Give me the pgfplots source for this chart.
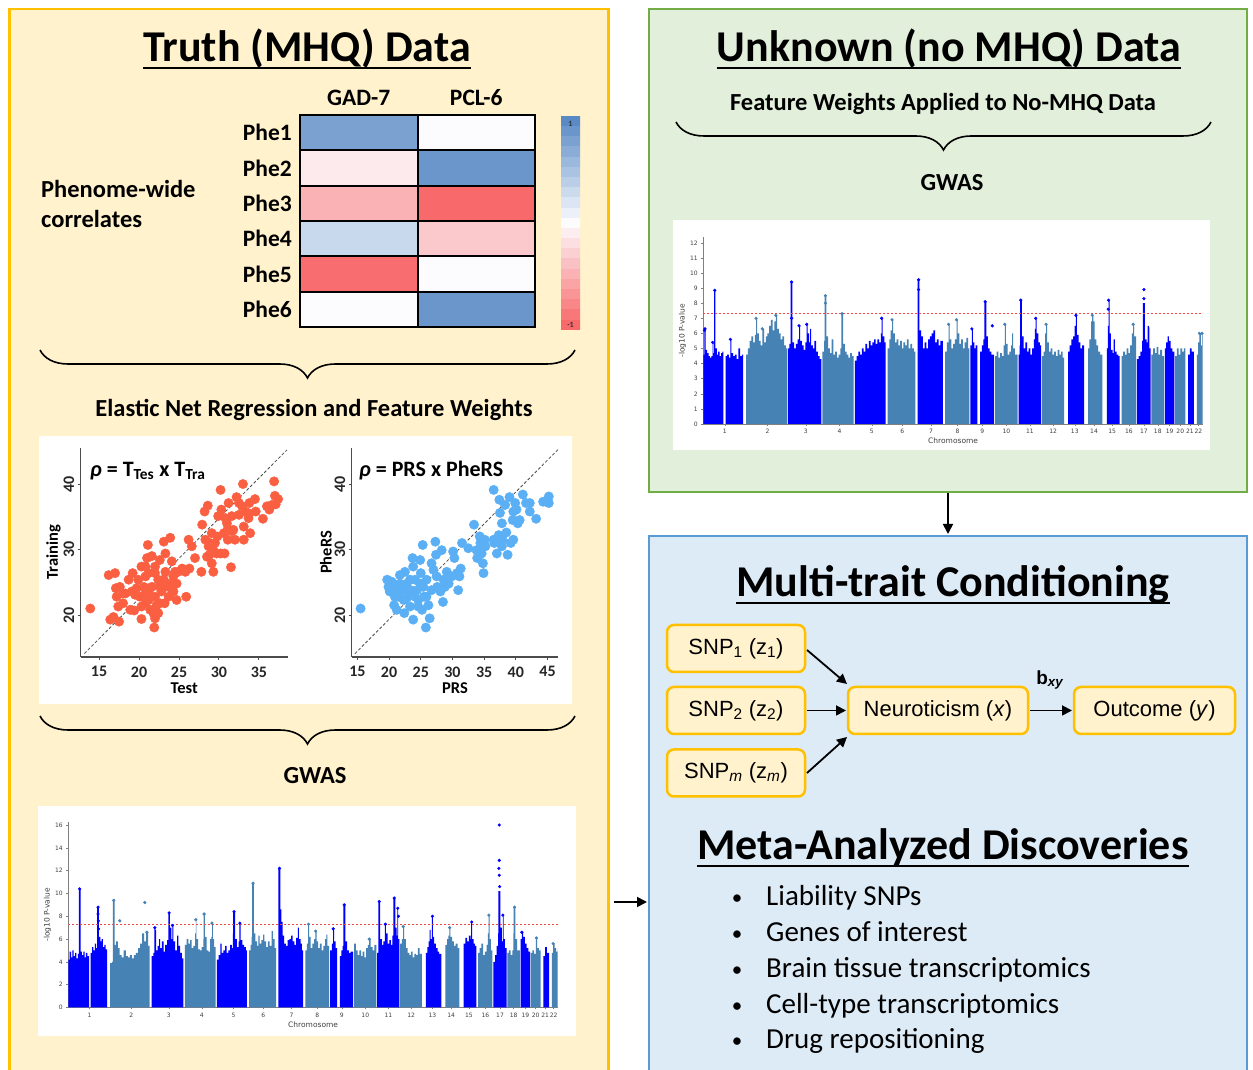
\documentclass[border=0pt]{standalone}
\usepackage{fontspec}
\setmainfont{Carlito}
\newfontfamily\arialf{Liberation Sans}
\newfontfamily\verdf{DejaVu Sans}
\usepackage{pgfplots}
\usepackage{pgfplotstable}
\pgfplotsset{compat=1.18}
\usetikzlibrary{arrows.meta,decorations.pathreplacing}
\definecolor{panelY}{HTML}{FFF2CC}
\definecolor{borderY}{HTML}{FFC000}
\definecolor{panelG}{HTML}{E2EFDA}
\definecolor{borderG}{HTML}{70AD47}
\definecolor{panelB}{HTML}{DDEBF7}
\definecolor{borderB}{HTML}{5B9BD5}
\definecolor{mhblue}{HTML}{0000FF}
\definecolor{mhsteel}{HTML}{4682B4}
\definecolor{ptred}{RGB}{250,95,65}
\definecolor{ptblue}{RGB}{90,175,245}
\definecolor{thr}{RGB}{245,70,70}

\pgfplotstableread{
x y c
0 0 0.8
1 0 0.0
0 1 -0.12
1 1 0.9
0 2 -0.5
1 2 -1.0
0 3 0.32
1 3 -0.35
0 4 -0.97
1 4 0.0
0 5 0.0
1 5 0.9
}\heattab

% colour-bar steps (row, value)
\pgfplotstableread{
x y c
0 -1 1
1 -1 1
0 -0.9 0.9
1 -0.9 0.9
0 -0.8 0.8
1 -0.8 0.8
0 -0.7 0.7
1 -0.7 0.7
0 -0.6 0.6
1 -0.6 0.6
0 -0.5 0.5
1 -0.5 0.5
0 -0.4 0.4
1 -0.4 0.4
0 -0.3 0.3
1 -0.3 0.3
0 -0.2 0.2
1 -0.2 0.2
0 -0.1 0.1
1 -0.1 0.1
0 0 0
1 0 0
0 0.1 -0.1
1 0.1 -0.1
0 0.2 -0.2
1 0.2 -0.2
0 0.3 -0.3
1 0.3 -0.3
0 0.4 -0.4
1 0.4 -0.4
0 0.5 -0.5
1 0.5 -0.5
0 0.6 -0.6
1 0.6 -0.6
0 0.7 -0.7
1 0.7 -0.7
0 0.8 -0.8
1 0.8 -0.8
0 0.9 -0.9
1 0.9 -0.9
0 1 -1
1 1 -1
}\cbartab

\pgfplotsset{
  mhB/.style={fill=mhblue, draw=none, const plot},
  mhS/.style={fill=mhsteel, draw=none, const plot},
  manh/.style={anchor=south west, scale only axis, xmin=0, xmax=2880, ymin=0,
    axis lines=left, axis line style={-, draw=black!50, line width=0.6pt},
    tick style={draw=black!50, line width=0.5pt}, major tick length=2pt, tick align=outside,
    xtick={124.5,370.5,591,785.5,971.5,1147.5,1312.5,1465,1608.5,1747,1882.5,2017,2141.5,2252.5,2357,2453,2539.5,2620,2688.5,2749.5,2805,2854.5},
    xticklabels={1,2,3,4,5,6,7,8,9,10,11,12,13,14,15,16,17,18,19,20,21,22},
    ticklabel style={font=\verdf\fontsize{6}{6}\selectfont, text=black!75},
    /pgf/number format/assume math mode=true,
    xlabel={Chromosome}, ylabel={-log10 P-value},
    label style={font=\verdf\fontsize{7.5}{8}\selectfont, text=black!75},
    xlabel style={yshift=3pt}, ylabel style={yshift=-3pt}},
  scat/.style={anchor=south west, scale only axis, width=207pt, height=209pt,
    ymin=13.6, ymax=45.5, axis lines=left,
    axis line style={-, draw=black!70, line width=1.2pt},
    tick style={draw=black!70, line width=1pt}, major tick length=3pt, tick align=outside,
    ytick={20,30,40},
    ticklabel style={font=\fontsize{16}{16}\selectfont\bfseries, text=black!85},
    xticklabel style={yshift=-3pt},
    /pgf/number format/assume math mode=true,
    yticklabel style={rotate=90, anchor=south},
    label style={font=\fontsize{16.5}{17}\selectfont\bfseries},
    ylabel style={yshift=-4pt}, xlabel style={yshift=1pt}}
}

\begin{document}
\begin{tikzpicture}[x=1pt,y=1pt]
\useasboundingbox (0,0) rectangle (1253,1070);
% ---------- panels
\draw[line width=2.5pt, draw=borderY, fill=panelY] (9.5,-20) rectangle (608.5,1061);
\draw[line width=2.5pt, draw=borderG, fill=panelG] (649,578) rectangle (1247,1061);
\draw[line width=2.5pt, draw=borderB, fill=panelB] (649,-20) rectangle (1247,534);
% white boxes
\fill[white] (39,366) rectangle (572,634);
\fill[white] (38,34) rectangle (576,264);
\fill[white] (673,620) rectangle (1210,850);

% ---------- titles
\node[anchor=base, inner sep=0, font=\fontsize{44}{48}\selectfont\bfseries] (T1) at (307,1008) {Truth (MHQ) Data};
\draw[line width=2.8pt] ([yshift=-6pt]T1.base west) -- ([yshift=-6pt]T1.base east);
\node[anchor=base, inner sep=0, font=\fontsize{44}{48}\selectfont\bfseries] (T2) at (949,1008) {Unknown (no MHQ) Data};
\draw[line width=2.8pt] ([yshift=-6pt]T2.base west) -- ([yshift=-6pt]T2.base east);
\node[anchor=base, inner sep=0, font=\fontsize{44}{48}\selectfont\bfseries] (T3) at (953,473) {Multi-trait Conditioning};
\draw[line width=2.8pt] ([yshift=-6pt]T3.base west) -- ([yshift=-6pt]T3.base east);
\node[anchor=base, inner sep=0, font=\fontsize{44}{48}\selectfont\bfseries] (T4) at (943,210) {Meta-Analyzed Discoveries};
\draw[line width=2.8pt] ([yshift=-6pt]T4.base west) -- ([yshift=-6pt]T4.base east);

\node[anchor=base west, inner sep=0, font=\fontsize{24.5}{26}\selectfont\bfseries] at (41,872) {Phenome-wide};
\node[anchor=base west, inner sep=0, font=\fontsize{24.5}{26}\selectfont\bfseries] at (41,842) {correlates};

\node[inner sep=0, font=\fontsize{24.5}{26}\selectfont\bfseries] at (314,660) {Elastic Net Regression and Feature Weights};
\node[inner sep=0, font=\fontsize{24.5}{26}\selectfont\bfseries] at (315,294) {GWAS};
\node[inner sep=0, font=\fontsize{24.5}{26}\selectfont\bfseries] at (943,966) {Feature Weights Applied to No-MHQ Data};
\node[inner sep=0, font=\fontsize{24.5}{26}\selectfont\bfseries] at (952,887) {GWAS};

% braces
\draw[decorate, decoration={brace, mirror, amplitude=28pt}, line width=1.6pt] (40,720) -- (575,720);
\draw[decorate, decoration={brace, mirror, amplitude=28pt}, line width=1.6pt] (40,354) -- (575,354);
\draw[decorate, decoration={brace, mirror, amplitude=28pt}, line width=1.6pt] (676,948) -- (1211,948);

% ---------- heatmap
\begin{axis}[at={(300pt,743pt)}, anchor=south west, scale only axis, width=235pt, height=212pt,
  xmin=-0.5, xmax=1.5, ymin=-0.5, ymax=5.5, y dir=reverse,
  xtick={0,1}, xticklabels={GAD-7,PCL-6}, xticklabel pos=right,
  ytick={0,1,2,3,4,5}, yticklabels={Phe1,Phe2,Phe3,Phe4,Phe5,Phe6},
  major tick length=0pt, minor tick length=0pt,
  ticklabel style={font=\fontsize{23.5}{24}\selectfont\bfseries, inner sep=0pt},
  xticklabel style={yshift=9pt}, yticklabel style={xshift=-8pt},
  colormap={excel}{rgb255=(248,105,107) rgb255=(252,252,255) rgb255=(90,138,198)},
  point meta min=-1, point meta max=1,
  minor xtick={0.5}, minor ytick={0.5,1.5,2.5,3.5,4.5},
  xminorgrids=true, yminorgrids=true, minor grid style={black, line width=2pt},
  axis on top, axis line style={black, line width=2.4pt}]
\addplot[matrix plot, mesh/cols=2, point meta=explicit] table[x=x, y=y, meta=c] {\heattab};
\end{axis}

% colorbar
\begin{axis}[at={(561pt,740pt)}, anchor=south west, scale only axis, width=19pt, height=214pt,
  xmin=-0.5, xmax=1.5, ymin=-1.05, ymax=1.05, hide axis,
  colormap={excel}{rgb255=(248,105,107) rgb255=(252,252,255) rgb255=(90,138,198)},
  point meta min=-1, point meta max=1]
\addplot[matrix plot, mesh/cols=2, point meta=explicit] table[x=x, y=y, meta=c] {\cbartab};
\end{axis}
\node[font=\fontsize{8}{8}\selectfont\bfseries, text=black!80] at (570.5,946) {1};
\node[font=\fontsize{8}{8}\selectfont\bfseries, text=black!80] at (570.5,745) {-1};

% ---------- scatter left
\begin{axis}[scat, at={(80.7pt,413pt)}, xmin=12.7, xmax=38.6, xtick={15,20,25,30,35},
  xlabel={Test}, ylabel={Training}]
\addplot[black!70, dashed, line width=0.8pt, dash pattern=on 3pt off 2pt] coordinates {(13.16,14.13) (38.5,45.2)};
\addplot[only marks, mark=*, mark size=4.7pt, color=ptred] coordinates {
(13.9,21.0)(16.2,26.1)(17.0,26.4)(17.1,24.1)(17.6,24.3)(16.4,19.3)(16.8,19.7)(17.5,19.0)(17.4,21.3)(18.3,23.3)(18.0,21.8)(18.9,20.8)(19.2,26.4)(19.5,23.1)(19.9,25.4)(20.3,27.4)(19.4,20.7)(20.3,19.4)(20.1,22.8)(20.6,24.3)(20.8,23.3)(21.0,28.7)(21.1,30.7)(21.2,26.4)(20.8,21.8)(21.4,20.8)(21.8,20.3)(21.9,18.1)(21.6,24.3)(22.0,27.4)(22.0,22.8)(22.4,25.4)(22.6,21.8)(22.8,23.6)(23.1,31.2)(23.3,29.4)(23.3,26.6)(23.5,24.8)(23.7,22.8)(23.9,31.8)(24.1,28.2)(24.3,25.9)(24.3,23.6)(24.7,22.3)(23.2,21.8)(22.4,20.3)(21.2,22.3)(20.3,21.3)(21.6,29.0)(22.6,28.4)(24.9,26.6)(25.4,27.1)(25.8,26.6)(26.3,27.1)(25.9,22.8)(26.2,31.5)(26.6,30.5)(27.0,28.7)(27.8,26.6)(27.9,33.8)(28.2,35.8)(28.6,36.7)(28.3,31.5)(28.7,30.5)(28.8,29.2)(29.1,32.5)(29.1,27.9)(29.3,26.6)(29.5,31.0)(29.7,29.4)(29.9,35.1)(30.2,39.1)(30.3,36.1)(30.6,32.5)(30.7,29.4)(31.0,34.0)(31.1,31.5)(31.2,37.1)(31.5,27.3)(31.6,35.1)(31.8,33.0)(32.0,31.5)(32.2,38.0)(32.5,37.1)(32.9,36.6)(33.0,40.0)(33.1,33.5)(33.1,31.5)(33.3,35.8)(33.7,34.8)(33.8,37.1)(33.9,32.5)(34.5,37.7)(34.6,35.8)(35.5,34.7)(36.0,36.6)(36.3,36.1)(36.6,36.8)(36.9,40.4)(37.0,38.2)(37.4,37.7)(37.1,36.9)(18.7,25.4)(19.1,23.6)(20.8,25.9)(22.0,26.4)(22.6,24.3)(23.7,24.3)(24.1,24.8)(23.1,25.4)(20.8,27.4)(22.2,21.5)(21.2,23.6)(19.7,24.1)(22.0,19.5)(30.2,29.4)(28.9,31.0)(30.8,34.8)(31.6,32.8)(29.8,32.0)(31.1,33.1)(33.8,35.5)(32.5,35.3)(29.3,29.9)(28.5,28.9)(18.0,23.3)(17.2,22.8)(24.7,24.8)(24.5,26.6)};
\end{axis}
\node[anchor=west, inner sep=0, font=\fontsize{22}{22}\selectfont\bfseries] at (90,599) {\textit{ρ} = T\textsubscript{Tes} x T\textsubscript{Tra}};

% ---------- scatter right
\begin{axis}[scat, at={(351.7pt,413pt)}, width=206.6pt, xmin=14.1, xmax=46.7, xtick={15,20,25,30,35,40,45},
  xlabel={PRS}, ylabel={PheRS}]
\addplot[black!70, dashed, line width=0.8pt, dash pattern=on 3pt off 2pt] coordinates {(14.6,14.1) (46.7,45.3)};
\addplot[only marks, mark=*, mark size=4.7pt, color=ptblue] coordinates {
(15.5,21.0)(19.7,25.4)(19.9,24.3)(20.1,23.6)(20.4,25.1)(20.7,24.3)(20.9,22.8)(20.8,21.5)(21.2,20.8)(21.7,26.1)(22.0,23.8)(22.3,22.3)(22.4,20.3)(22.5,26.6)(22.8,24.8)(23.1,23.3)(23.3,21.3)(23.7,28.7)(23.8,27.4)(23.8,19.3)(24.1,25.4)(24.4,23.8)(24.6,22.3)(24.9,28.4)(25.0,26.4)(25.2,20.8)(25.3,30.7)(25.4,24.3)(25.5,22.8)(25.8,18.1)(25.9,25.4)(26.2,21.5)(26.4,19.5)(26.7,27.9)(27.0,26.9)(27.3,31.2)(27.4,29.2)(27.5,25.9)(27.6,24.3)(28.1,23.6)(28.3,29.9)(28.5,22.0)(28.6,25.4)(29.1,26.6)(29.4,24.8)(29.9,25.9)(30.1,29.7)(30.3,28.7)(30.7,26.4)(30.9,23.8)(31.1,25.9)(31.3,27.1)(31.5,31.0)(32.5,30.2)(33.4,33.8)(33.8,29.9)(33.9,28.7)(34.3,32.0)(34.4,31.0)(34.6,29.4)(34.8,27.9)(34.9,26.4)(35.1,31.5)(35.2,30.5)(36.5,39.1)(36.6,31.0)(37.0,29.4)(37.3,32.2)(37.4,37.6)(37.5,35.6)(37.8,34.0)(37.9,31.5)(38.3,36.8)(38.5,32.6)(38.7,29.2)(39.0,38.0)(39.2,31.0)(39.5,34.5)(39.6,31.5)(39.9,37.1)(40.1,36.1)(40.3,34.0)(40.6,34.5)(41.1,38.4)(41.6,37.1)(42.2,37.1)(42.2,35.8)(43.2,34.7)(44.3,37.3)(44.9,37.3)(45.2,38.1)(45.2,37.1)(21.7,24.8)(21.2,24.0)(23.3,25.4)(22.8,22.6)(24.1,22.8)(24.6,21.3)(23.4,23.8)(22.3,24.1)(26.7,23.8)(25.9,22.8)(28.8,24.3)(34.8,30.5)(37.8,30.5)(39.6,35.8)(20.2,24.6)(21.5,22.8)(24.9,24.8)(36.5,31.5)};
\end{axis}
\node[anchor=west, inner sep=0, font=\fontsize{22}{22}\selectfont\bfseries] at (359,599) {\textit{ρ} = PRS x PheRS};

% ---------- Manhattan 1 (truth)
\begin{axis}[manh, at={(68.3pt,62.5pt)}, width=489.6pt, height=185.3pt, ymax=16.25, ytick={0,2,4,6,8,10,12,14,16}]
\addplot[mhB] coordinates {(0,0)(0,4.2)(8,4.9)(16,4.4)(24,5.0)(32,4.5)(40,4.8)(48,4.3)(56,4.7)(62,4.6)(62,10.4)(72,10.4)(72,4.9)(80,4.6)(88,4.9)(96,4.4)(104,4.8)(112,4.5)(122,4.7)(122,0)};
\addplot[mhB] coordinates {(132,0)(132,4.8)(140,5.3)(148,5.0)(156,5.6)(164,5.2)(170,6.0)(170,8.8)(180,8.8)(180,6.2)(188,5.8)(196,6.0)(204,5.3)(212,5.5)(220,5.1)(228,5.0)(228,0)};
\addplot[mhS] coordinates {(246,0)(246,3.9)(258,4.0)(262,4.2)(262,9.4)(272,9.4)(272,5.5)(282,5.8)(292,5.2)(302,4.6)(314,4.4)(326,5.0)(338,4.5)(350,4.4)(362,4.6)(374,4.3)(386,4.6)(398,4.8)(410,5.2)(422,5.6)(434,6.5)(446,5.8)(458,6.6)(470,5.4)(478,4.3)(478,0)};
\addplot[mhB] coordinates {(490,0)(490,4.5)(500,4.8)(506,7.0)(512,6.8)(516,5.0)(526,5.4)(534,6.0)(540,5.2)(550,5.8)(560,4.9)(570,5.5)(582,5.9)(588,7.0)(588,8.3)(598,8.3)(598,7.0)(606,6.0)(612,7.2)(618,5.8)(628,5.0)(640,6.3)(648,5.4)(658,4.8)(668,4.3)(677,4.1)(677,0)};
\addplot[mhS] coordinates {(686,0)(686,5.5)(696,6.0)(706,5.6)(716,5.9)(726,5.2)(736,5.4)(746,6.5)(750,7.7)(754,6.0)(764,5.1)(774,5.0)(784,5.3)(794,6.0)(796,8.2)(802,8.2)(804,6.2)(814,5.0)(824,4.9)(834,6.0)(842,6.2)(846,7.4)(850,6.0)(858,5.3)(866,4.5)(866,0)};
\addplot[mhB] coordinates {(874,0)(874,4.2)(884,4.6)(894,5.6)(902,4.8)(912,5.0)(922,5.4)(932,4.8)(942,5.0)(952,5.5)(962,5.2)(968,6.5)(970,8.4)(980,8.4)(982,6.0)(992,5.3)(1002,5.8)(1006,7.4)(1012,7.4)(1014,5.9)(1024,5.5)(1034,5.3)(1044,5.0)(1051,4.6)(1051,0)};
\addplot[mhS] coordinates {(1064,0)(1064,5.0)(1072,5.5)(1078,6.2)(1082,6.2)(1082,10.9)(1092,10.9)(1092,6.5)(1100,5.8)(1110,5.4)(1118,6.3)(1126,5.6)(1136,5.9)(1146,6.4)(1154,5.8)(1164,5.3)(1174,5.8)(1184,5.4)(1196,6.7)(1204,6.0)(1214,5.2)(1223,4.8)(1223,0)};
\addplot[mhB] coordinates {(1236,0)(1236,12.2)(1248,12.2)(1248,8.6)(1254,7.5)(1260,6.3)(1270,5.6)(1280,5.4)(1290,5.9)(1300,6.0)(1310,6.3)(1320,5.8)(1330,5.5)(1340,6.1)(1350,7.0)(1356,6.0)(1366,5.6)(1374,5.0)(1381,4.6)(1381,0)};
\addplot[mhS] coordinates {(1394,0)(1394,5.0)(1404,5.6)(1410,7.3)(1416,6.2)(1426,5.2)(1436,5.6)(1446,6.0)(1454,6.7)(1460,5.8)(1470,5.2)(1480,5.6)(1490,5.0)(1500,5.4)(1510,6.0)(1518,6.4)(1524,5.4)(1534,4.8)(1534,0)};
\addplot[mhB] coordinates {(1540,0)(1540,5.0)(1550,5.6)(1558,6.9)(1564,5.8)(1572,5.2)(1581,4.8)(1581,0)};
\addplot[mhB] coordinates {(1598,0)(1598,4.5)(1606,5.0)(1614,5.4)(1618,9.0)(1628,9.0)(1630,5.8)(1640,5.0)(1650,4.8)(1660,4.9)(1675,4.6)(1675,0)};
\addplot[mhS] coordinates {(1681,0)(1681,5.6)(1692,5.0)(1702,4.6)(1712,5.0)(1722,4.5)(1732,4.9)(1742,4.4)(1752,5.2)(1762,5.5)(1770,6.0)(1778,5.3)(1790,5.0)(1800,5.5)(1812,4.9)(1812,0)};
\addplot[mhB] coordinates {(1817,0)(1817,4.8)(1824,5.5)(1824,9.3)(1834,9.3)(1834,6.0)(1844,5.5)(1854,5.8)(1862,7.3)(1868,6.5)(1878,5.6)(1888,5.9)(1898,5.5)(1906,6.3)(1912,9.6)(1922,9.6)(1924,7.0)(1932,6.3)(1936,8.7)(1940,6.0)(1948,5.0)(1948,0)};
\addplot[mhS] coordinates {(1952,0)(1952,5.6)(1962,6.0)(1970,7.1)(1976,6.0)(1986,5.2)(1996,4.8)(2006,4.6)(2016,4.9)(2026,4.4)(2036,4.7)(2046,4.6)(2056,5.2)(2066,4.7)(2080,4.4)(2080,0)};
\addplot[mhB] coordinates {(2103,0)(2103,4.8)(2112,5.3)(2120,5.8)(2126,6.8)(2132,6.0)(2138,8.0)(2144,6.2)(2152,5.6)(2162,5.2)(2172,4.9)(2182,4.7)(2195,4.4)(2195,0)};
\addplot[mhS] coordinates {(2218,0)(2218,5.5)(2228,6.0)(2236,6.3)(2242,7.0)(2248,6.2)(2258,5.8)(2268,5.4)(2278,5.6)(2290,5.2)(2300,4.8)(2300,0)};
\addplot[mhB] coordinates {(2326,0)(2326,5.6)(2336,6.1)(2346,5.8)(2356,6.3)(2366,6.0)(2370,7.5)(2376,6.0)(2384,5.6)(2392,5.4)(2400,5.0)(2400,0)};
\addplot[mhS] coordinates {(2411,0)(2411,4.8)(2420,5.2)(2430,5.6)(2440,4.6)(2450,4.9)(2460,5.5)(2468,6.5)(2472,8.1)(2478,6.0)(2486,5.0)(2495,4.8)(2495,0)};
\addplot[mhB] coordinates {(2500,0)(2500,4.0)(2510,4.6)(2520,5.4)(2528,6.5)(2530,10.2)(2540,10.2)(2542,7.0)(2550,5.8)(2556,8.1)(2560,6.0)(2568,5.2)(2579,4.8)(2579,0)};
\addplot[mhS] coordinates {(2583,0)(2583,4.8)(2592,5.0)(2602,4.6)(2612,5.0)(2618,6.5)(2620,8.8)(2628,8.8)(2630,6.0)(2640,5.0)(2657,4.5)(2657,0)};
\addplot[mhB] coordinates {(2660,0)(2660,6.0)(2668,6.6)(2676,6.2)(2686,5.6)(2696,5.2)(2706,4.9)(2716,4.6)(2716,0)};
\addplot[mhS] coordinates {(2720,0)(2720,4.8)(2730,5.0)(2740,4.7)(2750,6.1)(2758,5.2)(2768,5.0)(2779,4.6)(2779,0)};
\addplot[mhB] coordinates {(2795,0)(2795,4.5)(2805,5.3)(2815,4.8)(2828,4.6)(2828,0)};
\addplot[mhS] coordinates {(2845,0)(2845,4.8)(2852,5.6)(2860,5.2)(2870,4.9)(2879,5.2)(2879,0)};
\addplot[only marks, mark=*, mark size=1.4pt, color=mhblue] coordinates {(67,10.4)(175,8.8)(175,8.2)(177,7.6)(178,6.9)(593,8.3)(612,7.2)(509,7.0)(975,8.4)(1009,7.4)(1242,12.2)(1558,6.9)(1623,9.0)(1829,9.3)(1865,7.3)(1917,9.6)(1938,8.7)(1942,8.0)(2142,8.0)(2373,7.5)(2535,16.0)(2535,12.9)(2533,12.2)(2535,11.6)(2537,10.6)(2556,8.1)(2668,6.6)};
\addplot[only marks, mark=*, mark size=1.4pt, color=mhsteel] coordinates {(267,9.4)(303,7.6)(450,9.2)(462,6.6)(750,7.7)(799,8.2)(845,7.4)(1087,10.9)(1413,7.3)(1455,6.7)(1770,6.0)(1970,7.1)(2243,7.0)(2474,8.1)(2625,8.8)(2754,6.1)(2852,5.6)};
\addplot[thr, line width=1pt, dash pattern=on 2pt off 2pt] coordinates {(0,7.3) (2880,7.3)};
\end{axis}

% ---------- Manhattan 2 (unknown)
\begin{axis}[manh, at={(703.3pt,646pt)}, width=499.6pt, height=186.5pt, ymax=12.35, ytick={0,1,2,3,4,5,6,7,8,9,10,11,12}]
\addplot[mhB] coordinates {(0,0)(0,4.6)(6,6.2)(10,6.3)(14,4.9)(22,4.7)(30,4.5)(38,4.4)(46,4.5)(54,5.4)(58,4.7)(62,4.8)(62,8.85)(70,8.85)(70,5.0)(78,4.6)(86,4.8)(94,4.5)(102,4.7)(110,4.8)(115,4.5)(115,0)};
\addplot[mhB] coordinates {(129,0)(129,4.5)(138,4.6)(148,4.4)(156,5.6)(162,4.7)(172,4.5)(182,4.6)(192,4.3)(202,5.0)(212,4.5)(222,4.6)(230,4.4)(230,0)};
\addplot[mhS] coordinates {(247,0)(247,4.6)(257,5.0)(267,5.5)(277,5.8)(287,5.4)(297,5.9)(304,7.0)(310,6.0)(320,5.5)(330,5.2)(340,6.3)(350,5.4)(360,5.8)(370,6.0)(380,6.5)(390,6.9)(400,6.2)(410,6.8)(418,7.2)(426,6.3)(436,6.0)(446,5.6)(456,5.8)(466,5.2)(476,5.0)(483,4.6)(483,0)};
\addplot[mhB] coordinates {(487,0)(487,5.0)(496,5.3)(504,5.5)(504,9.4)(514,9.4)(514,5.4)(524,5.0)(534,5.3)(544,5.6)(552,6.5)(558,5.5)(568,5.2)(578,4.9)(588,5.4)(596,6.6)(602,6.0)(610,5.4)(616,6.3)(622,5.2)(632,5.0)(640,5.5)(650,4.8)(660,4.5)(670,4.3)(680,4.1)(680,0)};
\addplot[mhS] coordinates {(686,0)(686,4.8)(696,5.5)(700,8.5)(708,8.5)(710,5.8)(720,5.0)(730,4.7)(740,5.6)(750,4.6)(760,4.8)(770,4.4)(780,4.6)(790,5.0)(796,7.3)(804,7.3)(806,5.3)(816,4.8)(826,4.6)(836,4.4)(846,4.7)(856,4.5)(866,4.3)(866,0)};
\addplot[mhB] coordinates {(874,0)(874,4.2)(884,4.5)(894,4.8)(904,4.6)(914,5.0)(924,4.8)(934,5.3)(944,5.0)(954,5.5)(964,5.2)(974,5.4)(984,5.6)(994,5.3)(1004,5.6)(1014,5.4)(1024,6.0)(1028,7.0)(1034,5.8)(1044,5.4)(1051,5.0)(1051,0)};
\addplot[mhS] coordinates {(1062,0)(1062,5.0)(1072,5.6)(1080,6.2)(1088,6.9)(1094,6.0)(1104,5.4)(1114,5.6)(1124,5.2)(1134,5.5)(1144,5.0)(1154,5.4)(1164,5.2)(1174,5.6)(1184,5.0)(1194,5.3)(1204,5.0)(1214,4.8)(1223,4.6)(1223,0)};
\addplot[mhB] coordinates {(1236,0)(1236,9.55)(1246,9.55)(1246,6.2)(1256,5.8)(1266,5.0)(1276,5.4)(1286,5.0)(1296,5.6)(1306,5.8)(1316,6.0)(1326,6.2)(1336,5.4)(1346,5.6)(1356,5.2)(1366,5.5)(1381,5.0)(1381,0)};
\addplot[mhS] coordinates {(1394,0)(1394,4.8)(1404,5.4)(1414,6.6)(1420,5.6)(1430,5.0)(1440,5.3)(1450,5.6)(1460,6.9)(1466,6.0)(1476,5.3)(1486,5.6)(1496,5.0)(1506,5.4)(1516,5.7)(1526,5.0)(1534,4.7)(1534,0)};
\addplot[mhB] coordinates {(1540,0)(1540,5.2)(1548,6.3)(1554,5.4)(1562,5.0)(1570,5.2)(1580,4.8)(1580,0)};
\addplot[mhB] coordinates {(1596,0)(1596,4.8)(1606,5.2)(1614,5.6)(1620,8.1)(1630,8.1)(1632,5.8)(1640,5.0)(1650,4.8)(1660,4.6)(1675,4.5)(1675,0)};
\addplot[mhS] coordinates {(1681,0)(1681,4.5)(1691,4.8)(1701,4.4)(1711,4.7)(1721,4.5)(1731,5.2)(1738,6.6)(1744,5.3)(1754,4.6)(1764,4.8)(1774,5.2)(1780,6.0)(1786,5.0)(1796,4.6)(1812,4.4)(1812,0)};
\addplot[mhB] coordinates {(1817,0)(1817,4.6)(1824,5.2)(1826,8.2)(1834,8.2)(1836,5.8)(1846,5.0)(1856,5.4)(1866,4.8)(1876,5.0)(1886,4.6)(1896,5.0)(1906,5.6)(1912,6.3)(1916,7.0)(1922,6.0)(1932,5.4)(1940,5.2)(1948,4.8)(1948,0)};
\addplot[mhS] coordinates {(1952,0)(1952,4.5)(1962,4.8)(1970,6.0)(1976,6.6)(1982,5.4)(1992,4.8)(2002,5.0)(2012,4.6)(2022,4.8)(2032,4.5)(2042,4.9)(2052,4.6)(2062,4.8)(2072,4.4)(2080,4.2)(2080,0)};
\addplot[mhB] coordinates {(2103,0)(2103,4.8)(2112,5.2)(2122,5.6)(2132,5.8)(2140,6.5)(2148,7.2)(2154,5.9)(2164,5.4)(2174,5.0)(2184,5.2)(2195,4.6)(2195,0)};
\addplot[mhS] coordinates {(2218,0)(2218,5.0)(2226,5.6)(2236,6.8)(2242,7.2)(2248,6.8)(2256,5.6)(2266,5.2)(2276,4.8)(2288,4.6)(2300,4.4)(2300,0)};
\addplot[mhB] coordinates {(2326,0)(2326,5.0)(2332,6.5)(2336,8.2)(2342,6.0)(2350,4.9)(2360,4.7)(2366,5.6)(2372,4.8)(2382,4.6)(2392,4.5)(2400,4.4)(2400,0)};
\addplot[mhS] coordinates {(2411,0)(2411,4.5)(2420,4.8)(2430,4.6)(2440,5.0)(2450,4.7)(2460,5.2)(2470,6.0)(2478,6.6)(2484,5.8)(2495,4.8)(2495,0)};
\addplot[mhB] coordinates {(2500,0)(2500,4.3)(2510,4.5)(2520,4.8)(2530,5.5)(2534,8.0)(2544,8.0)(2546,5.6)(2556,5.4)(2562,6.5)(2568,6.4)(2572,5.0)(2579,4.7)(2579,0)};
\addplot[mhS] coordinates {(2583,0)(2583,4.6)(2593,5.0)(2603,4.7)(2613,5.1)(2623,4.6)(2633,4.9)(2645,4.5)(2657,4.4)(2657,0)};
\addplot[mhB] coordinates {(2660,0)(2660,5.0)(2668,5.4)(2676,5.8)(2684,5.5)(2694,5.0)(2704,4.8)(2716,4.6)(2716,0)};
\addplot[mhS] coordinates {(2720,0)(2720,4.5)(2730,5.0)(2740,4.6)(2750,5.0)(2760,4.8)(2770,5.0)(2779,4.6)(2779,0)};
\addplot[mhB] coordinates {(2795,0)(2795,4.6)(2805,5.0)(2815,4.8)(2828,4.5)(2828,0)};
\addplot[mhS] coordinates {(2845,0)(2845,4.6)(2852,5.4)(2860,6.0)(2868,5.2)(2875,6.0)(2879,5.0)(2879,0)};
\addplot[only marks, mark=*, mark size=1.4pt, color=mhblue] coordinates {(10,6.3)(6,6.2)(54,5.4)(66,8.85)(156,5.6)(509,9.4)(509,7.0)(552,6.5)(596,6.6)(1028,7.0)(1241,9.55)(1241,8.9)(1625,8.1)(1548,6.3)(1666,6.5)(1830,8.2)(1916,7.0)(2148,7.2)(2336,8.2)(2334,7.6)(2540,12.4)(2540,8.9)(2540,8.3)};
\addplot[only marks, mark=*, mark size=1.4pt, color=mhsteel] coordinates {(304,7.0)(340,6.3)(418,7.2)(704,8.5)(704,8.0)(800,7.3)(1088,6.9)(1414,6.6)(1460,6.9)(1738,6.6)(1976,6.6)(2242,7.2)(2478,6.6)(2860,6.0)(2875,6.0)};
\addplot[thr, line width=1pt, dash pattern=on 2pt off 2pt] coordinates {(0,7.3) (2880,7.3)};
\end{axis}

% ---------- flow diagram
\tikzset{fbox/.style={draw=borderY, fill=panelY, line width=2.5pt, rounded corners=7pt, inner sep=0pt,
  font=\arialf\fontsize{22}{22}\selectfont, minimum height=47pt}}
\node[fbox, minimum width=138pt] at (736,421.5) {SNP\textsubscript{1} (z\textsubscript{1})};
\node[fbox, minimum width=138pt] at (736,359.5) {SNP\textsubscript{2} (z\textsubscript{2})};
\node[fbox, minimum width=138pt] at (736,297) {SNP\textsubscript{\textit{m}} (z\textsubscript{\textit{m}})};
\node[fbox, minimum width=180pt] at (938,359.5) {Neuroticism (\textit{x})};
\node[fbox, minimum width=161pt] at (1154.5,359.5) {Outcome (\textit{y})};
\tikzset{farrow/.style={-{Triangle[length=10pt,width=10pt]}, line width=1.8pt}}
\draw[farrow] (807,420) -- (847,386);
\draw[farrow] (807,359.5) -- (846,359.5);
\draw[farrow] (807,297) -- (847,333);
\draw[farrow] (1030,359.5) -- (1072,359.5);
\node[inner sep=0, font=\arialf\fontsize{19}{19}\selectfont\bfseries] at (1050,390) {b\textsubscript{\textit{xy}}};

% connecting arrows
\draw[farrow] (948,577) -- (948,536);
\draw[farrow] (614,168) -- (647,168);

% ---------- bullets
\foreach \yy/\txt in {164/Liability SNPs, 128/Genes of interest, 92/Brain tissue transcriptomics, 56/Cell-type transcriptomics, 21/Drug repositioning}{
  \node[anchor=base, inner sep=0, font=\fontsize{21}{22}\selectfont] at (737,\yy+1) {•};
  \node[anchor=base west, inner sep=0, font=\fontsize{29}{30}\selectfont] at (766,\yy) {\txt};
}
\end{tikzpicture}
\end{document}
